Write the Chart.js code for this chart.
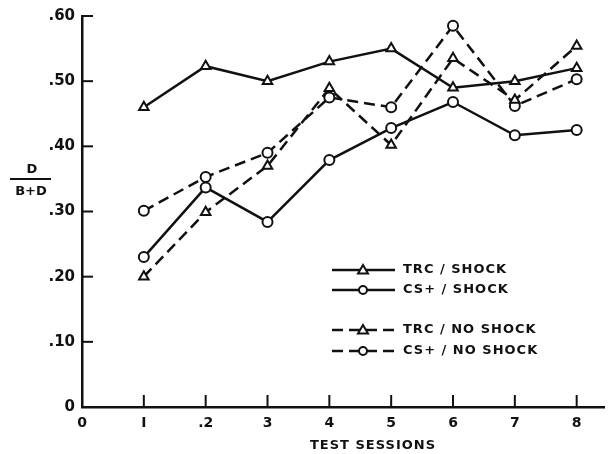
<!DOCTYPE html>
<html>
<head>
<meta charset="utf-8">
<script src="https://cdn.jsdelivr.net/npm/chart.js@4"></script>
<style>
  body { margin: 0; background: #fff; }
  canvas { display: block; }
</style>
</head>
<body>
<canvas id="chart" width="612" height="454"></canvas>
<script>
const sessions = [1, 2, 3, 4, 5, 6, 7, 8];
const trcShock = [0.46, 0.523, 0.50, 0.53, 0.55, 0.49, 0.50, 0.52];
const csShock = [0.23, 0.337, 0.284, 0.379, 0.428, 0.468, 0.417, 0.425];
const trcNoShock = [0.20, 0.299, 0.37, 0.489, 0.402, 0.535, 0.471, 0.554];
const csNoShock = [0.301, 0.353, 0.39, 0.475, 0.46, 0.585, 0.462, 0.503];
const xTickLabels = ["0", "I", ".2", "3", "4", "5", "6", "7", "8"];
const yTickValues = [0, 0.1, 0.2, 0.3, 0.4, 0.5, 0.6];
const yTickLabels = ["0", ".10", ".20", ".30", ".40", ".50", ".60"];
const legendLabels = ["TRC / SHOCK", "CS+ / SHOCK", "TRC / NO SHOCK", "CS+ / NO SHOCK"];

const INK = "#111";
const DASH = [11, 6];

function pts(values) {
  return sessions.map((s, i) => ({ x: s, y: values[i] }));
}

function series(label, values, style, dashed) {
  return {
    label: label,
    data: pts(values),
    borderColor: INK,
    borderWidth: 2.5,
    borderDash: dashed ? DASH : [],
    tension: 0,
    fill: false,
    pointStyle: style,
    pointRadius: style === "triangle" ? 5.5 : 5,
    pointBackgroundColor: "#fff",
    pointBorderColor: INK,
    pointBorderWidth: 2,
  };
}

// tick marks, y label fraction, x title and legend
const extras = {
  id: "extras",
  afterDraw(chart) {
    const ctx = chart.ctx;
    const xs = chart.scales.x;
    const ys = chart.scales.y;
    ctx.save();
    ctx.strokeStyle = INK;
    ctx.fillStyle = INK;
    ctx.lineWidth = 2;
    ctx.setLineDash([]);

    // inward ticks
    sessions.forEach((s) => {
      const px = xs.getPixelForValue(s);
      ctx.beginPath();
      ctx.moveTo(px, ys.bottom);
      ctx.lineTo(px, ys.bottom - 12);
      ctx.stroke();
    });
    yTickValues.slice(1).forEach((v) => {
      const py = ys.getPixelForValue(v);
      ctx.beginPath();
      ctx.moveTo(xs.left, py);
      ctx.lineTo(xs.left + 11, py);
      ctx.stroke();
    });

    // y label  D / (B+D)
    ctx.font = "bold 13px 'DejaVu Sans'";
    ctx.textAlign = "center";
    ctx.textBaseline = "middle";
    ctx.fillText("D", 32, 170);
    ctx.beginPath();
    ctx.moveTo(10, 179);
    ctx.lineTo(51, 179);
    ctx.stroke();
    ctx.fillText("B+D", 31, 192);

    // x title
    ctx.font = "bold 13px 'DejaVu Sans'";
    ctx.letterSpacing = "1px";
    ctx.fillText("TEST SESSIONS", 373, 446);

    // legend
    const rows = [270, 290, 330, 351];
    const styles = ["triangle", "circle", "triangle", "circle"];
    ctx.textAlign = "left";
    rows.forEach((ry, i) => {
      ctx.lineWidth = 2.5;
      ctx.setLineDash(i >= 2 ? DASH : []);
      ctx.beginPath();
      ctx.moveTo(332, ry);
      ctx.lineTo(395, ry);
      ctx.stroke();
      ctx.setLineDash([]);
      ctx.lineWidth = 2;
      ctx.fillStyle = "#fff";
      ctx.beginPath();
      if (styles[i] === "circle") {
        ctx.arc(363, ry, 4, 0, Math.PI * 2);
      } else {
        ctx.moveTo(363, ry - 5);
        ctx.lineTo(368, ry + 3.5);
        ctx.lineTo(358, ry + 3.5);
        ctx.closePath();
      }
      ctx.fill();
      ctx.stroke();
      ctx.fillStyle = INK;
      ctx.fillText(legendLabels[i], 403, ry);
    });
    ctx.restore();
  },
};

Chart.defaults.font.family = "'DejaVu Sans', sans-serif";
Chart.defaults.font.weight = "bold";
Chart.defaults.font.size = 14;
Chart.defaults.color = INK;

new Chart(document.getElementById("chart").getContext("2d"), {
  type: "line",
  data: {
    datasets: [
      series(legendLabels[0], trcShock, "triangle", false),
      series(legendLabels[1], csShock, "circle", false),
      series(legendLabels[2], trcNoShock, "triangle", true),
      series(legendLabels[3], csNoShock, "circle", true),
    ],
  },
  options: {
    responsive: false,
    animation: false,
    layout: { padding: { top: 16, right: 0, left: 0, bottom: 0 } },
    plugins: { legend: { display: false }, tooltip: { enabled: false } },
    scales: {
      x: {
        type: "linear",
        min: 0,
        max: 8.45,
        afterBuildTicks: (scale) => {
          scale.ticks = xTickLabels.map((_, i) => ({ value: i }));
        },
        afterFit: (scale) => { scale.height = 47; },
        ticks: {
          padding: 8,
          maxRotation: 0,
          autoSkip: false,
          font: { size: 14, weight: "bold" },
          callback: (v, i) => xTickLabels[i],
        },
        grid: { display: false, drawTicks: false },
        border: { display: true, color: INK, width: 2.5 },
      },
      y: {
        min: 0,
        max: 0.6,
        afterBuildTicks: (scale) => {
          scale.ticks = yTickValues.map((v) => ({ value: v }));
        },
        afterFit: (scale) => { scale.width = 82; },
        ticks: {
          padding: 7,
          autoSkip: false,
          font: { size: 15, weight: "bold" },
          callback: (v, i) => yTickLabels[i],
        },
        grid: { display: false, drawTicks: false },
        border: { display: true, color: INK, width: 2.5 },
      },
    },
  },
  plugins: [extras],
});
</script>
</body>
</html>
